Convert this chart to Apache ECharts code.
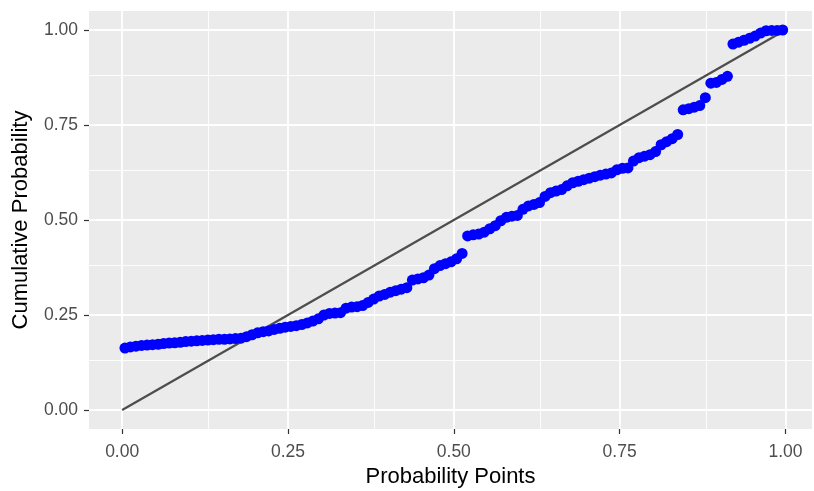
<!DOCTYPE html>
<html>
<head>
<meta charset="utf-8">
<script src="https://cdn.jsdelivr.net/npm/echarts@6/dist/echarts.min.js"></script>
<style>
  html, body { margin: 0; padding: 0; background: #ffffff; }
  #chart { width: 814px; height: 491px; }
</style>
</head>
<body>
<div id="chart"></div>
<script>
// Theoretical probability points (x) for the sorted sample
var probPoints = [
  0.0042, 0.0125, 0.0208, 0.0292, 0.0375, 0.0458, 0.0542, 0.0625, 0.0708, 0.0792,
  0.0875, 0.0958, 0.1042, 0.1125, 0.1208, 0.1292, 0.1375, 0.1458, 0.1542, 0.1625,
  0.1708, 0.1792, 0.1875, 0.1958, 0.2042, 0.2125, 0.2208, 0.2292, 0.2375, 0.2458,
  0.2542, 0.2625, 0.2708, 0.2792, 0.2875, 0.2958, 0.3042, 0.3125, 0.3208, 0.3292,
  0.3375, 0.3458, 0.3542, 0.3625, 0.3708, 0.3792, 0.3875, 0.3958, 0.4042, 0.4125,
  0.4208, 0.4292, 0.4375, 0.4458, 0.4542, 0.4625, 0.4708, 0.4792, 0.4875, 0.4958,
  0.5042, 0.5125, 0.5208, 0.5292, 0.5375, 0.5458, 0.5542, 0.5625, 0.5708, 0.5792,
  0.5875, 0.5958, 0.6042, 0.6125, 0.6208, 0.6292, 0.6375, 0.6458, 0.6542, 0.6625,
  0.6708, 0.6792, 0.6875, 0.6958, 0.7042, 0.7125, 0.7208, 0.7292, 0.7375, 0.7458,
  0.7542, 0.7625, 0.7708, 0.7792, 0.7875, 0.7958, 0.8042, 0.8125, 0.8208, 0.8292,
  0.8375, 0.8458, 0.8542, 0.8625, 0.8708, 0.8792, 0.8875, 0.8958, 0.9042, 0.9125,
  0.9208, 0.9292, 0.9375, 0.9458, 0.9542, 0.9625, 0.9708, 0.9792, 0.9875, 0.9958
];

// Fitted cumulative probability of each sorted observation (y)
var cumProb = [
  0.163, 0.166, 0.168, 0.170, 0.171, 0.172, 0.173, 0.175, 0.176, 0.177,
  0.178, 0.180, 0.181, 0.182, 0.183, 0.184, 0.185, 0.186, 0.186, 0.187,
  0.188, 0.189, 0.193, 0.198, 0.203, 0.206, 0.208, 0.212, 0.215, 0.218,
  0.220, 0.222, 0.225, 0.229, 0.234, 0.240, 0.250, 0.254, 0.255, 0.256,
  0.268, 0.271, 0.272, 0.275, 0.283, 0.292, 0.300, 0.304, 0.310, 0.314,
  0.318, 0.322, 0.342, 0.345, 0.348, 0.355, 0.372, 0.380, 0.385, 0.390,
  0.398, 0.412, 0.458, 0.461, 0.463, 0.468, 0.477, 0.485, 0.498, 0.507,
  0.510, 0.512, 0.528, 0.537, 0.541, 0.546, 0.562, 0.572, 0.576, 0.580,
  0.590, 0.598, 0.602, 0.606, 0.610, 0.614, 0.618, 0.621, 0.624, 0.632,
  0.636, 0.637, 0.655, 0.664, 0.668, 0.672, 0.680, 0.698, 0.706, 0.714,
  0.725, 0.790, 0.793, 0.797, 0.801, 0.822, 0.860, 0.862, 0.870, 0.878,
  0.963, 0.968, 0.973, 0.978, 0.984, 0.992, 0.998, 0.999, 0.999, 1.000
];

// Reference line y = x
var refLineEnds = [0, 1];

// Axis breaks
var majorBreaks = [0, 0.25, 0.5, 0.75, 1];
var minorBreaks = [0.125, 0.375, 0.625, 0.875];

var points = probPoints.map(function (x, i) { return [x, cumProb[i]]; });
var refLine = refLineEnds.map(function (v) { return [v, v]; });

var gridLines = [];
majorBreaks.forEach(function (v) {
  gridLines.push({ xAxis: v, lineStyle: { color: '#ffffff', width: 1.8, type: 'solid' } });
  gridLines.push({ yAxis: v, lineStyle: { color: '#ffffff', width: 1.8, type: 'solid' } });
});
minorBreaks.forEach(function (v) {
  gridLines.push({ xAxis: v, lineStyle: { color: '#ffffff', width: 0.9, type: 'solid' } });
  gridLines.push({ yAxis: v, lineStyle: { color: '#ffffff', width: 0.9, type: 'solid' } });
});

var fontFamily = '"Liberation Sans", Arial, sans-serif';
var fmt = function (v) { return Number(v).toFixed(2); };

var chart = echarts.init(document.getElementById('chart'), null, { renderer: 'canvas' });
chart.setOption({
  animation: false,
  backgroundColor: '#ffffff',
  grid: {
    left: 89, right: 2, top: 11, bottom: 62,
    outerBoundsMode: 'none',
    show: true, backgroundColor: '#EBEBEB', borderWidth: 0
  },
  xAxis: {
    type: 'value', min: -0.05, max: 1.04,
    name: 'Probability Points', nameLocation: 'middle', nameGap: 37,
    nameTextStyle: { color: '#000000', fontSize: 22, fontFamily: fontFamily },
    axisLine: { show: false, onZero: false },
    axisTick: { show: true, customValues: majorBreaks, length: 5, lineStyle: { color: '#333333', width: 1.2 } },
    axisLabel: { customValues: majorBreaks, formatter: fmt, margin: 14, color: '#4D4D4D', fontSize: 17.5, fontFamily: fontFamily },
    splitLine: { show: false }
  },
  yAxis: {
    type: 'value', min: -0.05, max: 1.05,
    name: 'Cumulative Probability', nameLocation: 'middle', nameGap: 57, nameRotate: 90,
    nameTextStyle: { color: '#000000', fontSize: 22, fontFamily: fontFamily },
    axisLine: { show: false, onZero: false },
    axisTick: { show: true, customValues: majorBreaks, length: 5, lineStyle: { color: '#333333', width: 1.2 } },
    axisLabel: { customValues: majorBreaks, formatter: fmt, margin: 11, color: '#4D4D4D', fontSize: 17.5, fontFamily: fontFamily },
    splitLine: { show: false }
  },
  series: [
    {
      name: 'grid',
      type: 'line',
      data: [],
      z: 1,
      silent: true,
      markLine: {
        z: 1,
        silent: true,
        symbol: ['none', 'none'],
        label: { show: false },
        emphasis: { disabled: true },
        data: gridLines
      }
    },
    {
      name: 'reference',
      type: 'line',
      data: refLine,
      z: 6,
      symbol: 'none',
      silent: true,
      lineStyle: { color: '#4D4D4D', width: 2.2 }
    },
    {
      name: 'pp',
      type: 'scatter',
      data: points,
      z: 7,
      symbol: 'circle',
      symbolSize: 11,
      itemStyle: { color: '#0000FF', opacity: 1 }
    }
  ]
});
</script>
</body>
</html>
